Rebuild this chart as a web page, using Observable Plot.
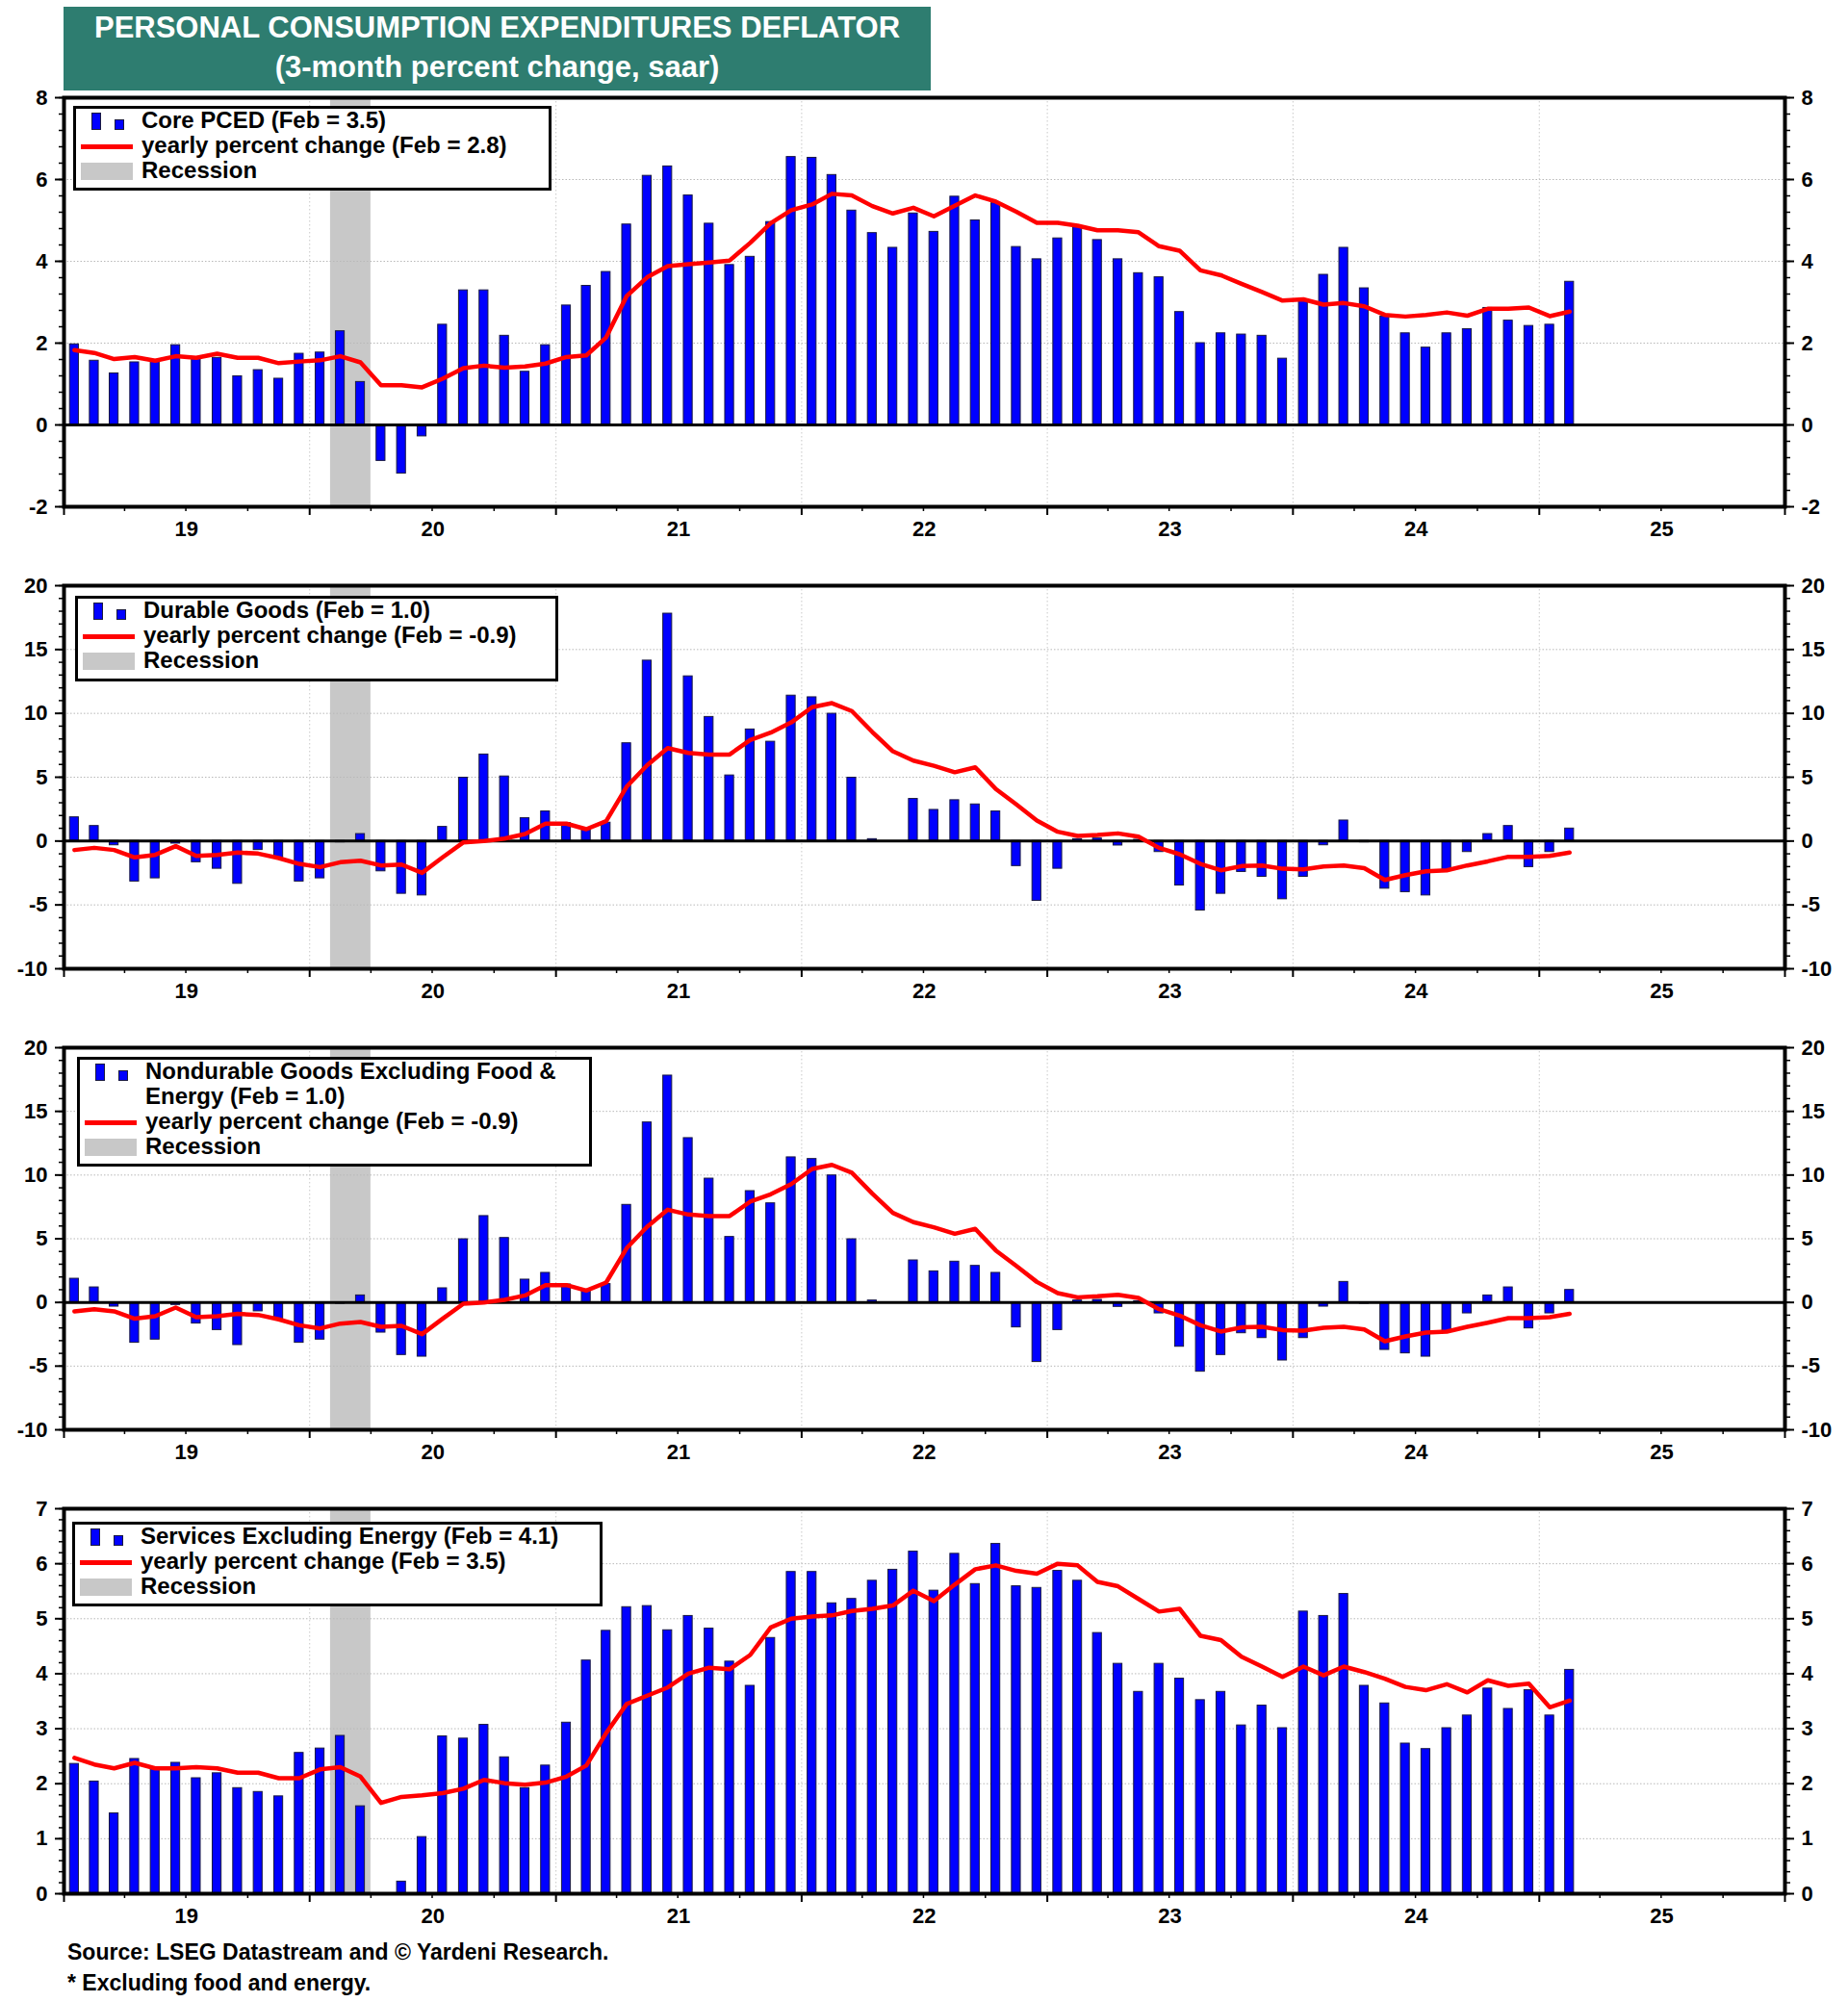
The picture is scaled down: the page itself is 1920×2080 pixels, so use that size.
<!DOCTYPE html>
<html>
<head>
<meta charset="utf-8">
<script src="https://cdn.jsdelivr.net/npm/d3@7"></script>
<script src="https://cdn.jsdelivr.net/npm/@observablehq/plot@0.6"></script>
<style>
  html, body { margin: 0; padding: 0; background: #fff; }
  #page { position: relative; width: 1920px; height: 2080px; background: #fff;
          font-family: "Liberation Sans", Arial, Helvetica, sans-serif; font-weight: bold; color: #000; }
  .panel { position: absolute; left: 0; }
  .title { position: absolute; left: 66px; top: 7px; width: 901px; height: 87px; background: #2e7d70;
           color: #fff; text-align: center; font-size: 31px; line-height: 41px; padding-top: 1px; box-sizing: border-box; }
  .legend { position: absolute; background: #fff; border: 3px solid #000; box-sizing: border-box; z-index: 5; }
  .row { position: absolute; left: 0; right: 0; height: 26px; line-height: 26px; font-size: 24px; white-space: nowrap; }
  .row .txt { position: absolute; left: 68px; top: 0; }
  .sym { position: absolute; box-sizing: border-box; }
  .footer { position: absolute; left: 70px; font-size: 23px; line-height: 32px; white-space: nowrap; }
</style>
</head>
<body>
<div id="page"></div>
<script>
// ---------------- DATA (Jan 2019 .. Feb 2025, monthly) ----------------
const titleLines = ["PERSONAL CONSUMPTION EXPENDITURES DEFLATOR", "(3-month percent change, saar)"];
const footerLines = ["Source: LSEG Datastream and \u00A9 Yardeni Research.", "* Excluding food and energy."];
const yearTickLabels = ["19", "20", "21", "22", "23", "24", "25"];
const recessionStart = "2020-02-01";
const recessionEnd = "2020-04-01";
const firstMonth = "2019-01-01";

const coreBars = [
  1.97, 1.57, 1.26, 1.53, 1.55, 1.95, 1.64, 1.64, 1.19, 1.34, 1.13, 1.74,
  1.77, 2.29, 1.05, -0.88, -1.19, -0.28, 2.45, 3.29, 3.29, 2.18, 1.30, 1.95,
  2.92, 3.40, 3.74, 4.90, 6.09, 6.32, 5.61, 4.92, 3.91, 4.11, 4.96, 6.55,
  6.53, 6.11, 5.24, 4.69, 4.33, 5.17, 4.72, 5.58, 5.00, 5.42, 4.35, 4.05,
  4.56, 4.86, 4.52, 4.05, 3.71, 3.61, 2.76, 2.00, 2.24, 2.21, 2.18, 1.62,
  3.03, 3.67, 4.33, 3.34, 2.65, 2.24, 1.89, 2.24, 2.34, 2.86, 2.55, 2.42,
  2.45, 3.50];
const coreYoY = [
  1.83, 1.76, 1.61, 1.66, 1.57, 1.68, 1.64, 1.74, 1.64, 1.64, 1.51, 1.55,
  1.58, 1.68, 1.53, 0.97, 0.97, 0.92, 1.13, 1.39, 1.45, 1.40, 1.43, 1.50,
  1.66, 1.70, 2.14, 3.15, 3.61, 3.88, 3.93, 3.97, 4.02, 4.45, 4.93, 5.25,
  5.39, 5.65, 5.61, 5.35, 5.17, 5.31, 5.10, 5.36, 5.61, 5.46, 5.21, 4.94,
  4.94, 4.87, 4.76, 4.76, 4.71, 4.37, 4.26, 3.78, 3.66, 3.45, 3.25, 3.04,
  3.07, 2.94, 2.98, 2.90, 2.69, 2.65, 2.69, 2.75, 2.67, 2.84, 2.84, 2.87,
  2.66, 2.77];

const durableBars = [
  1.86, 1.18, -0.33, -3.17, -2.92, -0.20, -1.66, -2.17, -3.35, -0.70, -1.30, -3.17,
  -2.92, -0.10, 0.55, -2.37, -4.13, -4.26, 1.11, 4.96, 6.78, 5.06, 1.79, 2.32,
  1.41, 0.86, 1.44, 7.66, 14.13, 17.81, 12.90, 9.72, 5.14, 8.74, 7.78, 11.39,
  11.26, 9.97, 4.96, 0.15, 0.00, 3.30, 2.44, 3.20, 2.87, 2.32, -1.96, -4.68,
  -2.17, 0.15, 0.20, -0.35, 0.10, -0.86, -3.48, -5.44, -4.13, -2.42, -2.80, -4.56,
  -2.80, -0.33, 1.61, -0.10, -3.73, -4.00, -4.26, -2.30, -0.86, 0.55, 1.18, -2.04,
  -0.86, 0.98];
const durableYoY = [
  -0.70, -0.53, -0.70, -1.28, -1.08, -0.40, -1.16, -1.08, -0.90, -0.98, -1.33, -1.79,
  -2.04, -1.66, -1.54, -1.91, -1.84, -2.49, -1.28, -0.10, 0.00, 0.20, 0.55, 1.36,
  1.36, 0.93, 1.56, 4.26, 5.94, 7.28, 6.90, 6.78, 6.78, 7.91, 8.49, 9.29,
  10.48, 10.80, 10.18, 8.54, 7.03, 6.30, 5.90, 5.39, 5.77, 4.08, 2.87, 1.61,
  0.73, 0.40, 0.48, 0.60, 0.35, -0.53, -1.03, -1.79, -2.29, -1.96, -1.91, -2.17,
  -2.22, -1.99, -1.91, -2.12, -3.05, -2.67, -2.37, -2.29, -1.91, -1.59, -1.23, -1.23,
  -1.16, -0.90];

const nondurableBars = [
  1.86, 1.18, -0.33, -3.17, -2.92, -0.20, -1.66, -2.17, -3.35, -0.70, -1.30, -3.17,
  -2.92, -0.10, 0.55, -2.37, -4.13, -4.26, 1.11, 4.96, 6.78, 5.06, 1.79, 2.32,
  1.41, 0.86, 1.44, 7.66, 14.13, 17.81, 12.90, 9.72, 5.14, 8.74, 7.78, 11.39,
  11.26, 9.97, 4.96, 0.15, 0.00, 3.30, 2.44, 3.20, 2.87, 2.32, -1.96, -4.68,
  -2.17, 0.15, 0.20, -0.35, 0.10, -0.86, -3.48, -5.44, -4.13, -2.42, -2.80, -4.56,
  -2.80, -0.33, 1.61, -0.10, -3.73, -4.00, -4.26, -2.30, -0.86, 0.55, 1.18, -2.04,
  -0.86, 0.98];
const nondurableYoY = [
  -0.70, -0.53, -0.70, -1.28, -1.08, -0.40, -1.16, -1.08, -0.90, -0.98, -1.33, -1.79,
  -2.04, -1.66, -1.54, -1.91, -1.84, -2.49, -1.28, -0.10, 0.00, 0.20, 0.55, 1.36,
  1.36, 0.93, 1.56, 4.26, 5.94, 7.28, 6.90, 6.78, 6.78, 7.91, 8.49, 9.29,
  10.48, 10.80, 10.18, 8.54, 7.03, 6.30, 5.90, 5.39, 5.77, 4.08, 2.87, 1.61,
  0.73, 0.40, 0.48, 0.60, 0.35, -0.53, -1.03, -1.79, -2.29, -1.96, -1.91, -2.17,
  -2.22, -1.99, -1.91, -2.12, -3.05, -2.67, -2.37, -2.29, -1.91, -1.59, -1.23, -1.23,
  -1.16, -0.90];

const servicesBars = [
  2.36, 2.04, 1.46, 2.45, 2.28, 2.38, 2.10, 2.19, 1.92, 1.85, 1.77, 2.56,
  2.64, 2.87, 1.59, -0.40, 0.22, 1.03, 2.86, 2.82, 3.07, 2.48, 1.92, 2.33,
  3.11, 4.24, 4.78, 5.21, 5.23, 4.79, 5.05, 4.82, 4.22, 3.78, 4.65, 5.85,
  5.85, 5.28, 5.36, 5.69, 5.89, 6.22, 5.51, 6.18, 5.63, 6.36, 5.59, 5.56,
  5.87, 5.69, 4.74, 4.18, 3.67, 4.18, 3.91, 3.52, 3.67, 3.06, 3.42, 3.01,
  5.13, 5.05, 5.45, 3.78, 3.46, 2.73, 2.63, 3.01, 3.24, 3.73, 3.36, 3.70,
  3.24, 4.07];
const servicesYoY = [
  2.47, 2.35, 2.28, 2.38, 2.28, 2.28, 2.30, 2.28, 2.20, 2.20, 2.10, 2.10,
  2.26, 2.30, 2.13, 1.65, 1.76, 1.79, 1.83, 1.91, 2.07, 2.01, 1.98, 2.02,
  2.13, 2.33, 2.92, 3.45, 3.60, 3.75, 4.00, 4.11, 4.08, 4.34, 4.84, 5.00,
  5.04, 5.06, 5.14, 5.18, 5.24, 5.51, 5.32, 5.62, 5.90, 5.97, 5.87, 5.82,
  6.00, 5.97, 5.67, 5.59, 5.36, 5.13, 5.18, 4.69, 4.61, 4.31, 4.13, 3.94,
  4.13, 3.97, 4.13, 4.03, 3.91, 3.76, 3.70, 3.81, 3.66, 3.88, 3.78, 3.82,
  3.39, 3.51];

const coreLegend = ["Core PCED (Feb = 3.5)", "yearly percent change (Feb = 2.8)", "Recession"];
const durableLegend = ["Durable Goods (Feb = 1.0)", "yearly percent change (Feb = -0.9)", "Recession"];
const nondurableLegend = ["Nondurable Goods Excluding Food &", "Energy (Feb = 1.0)", "yearly percent change (Feb = -0.9)", "Recession"];
const servicesLegend = ["Services Excluding Energy (Feb = 4.1)", "yearly percent change (Feb = 3.5)", "Recession"];

// ---------------- BUILD ----------------
const page = document.getElementById("page");
const FONT = '"Liberation Sans", Arial, Helvetica, sans-serif';

// title
const t = document.createElement("div");
t.className = "title";
t.innerHTML = titleLines.map(s => `<div>${s.replace(/&/g, "&amp;")}</div>`).join("");
page.appendChild(t);

const start = new Date(firstMonth + "T00:00:00Z");
const xDomain = [d3.utcYear.floor(start), d3.utcYear.offset(d3.utcYear.floor(start), 7)];
const W = 1920, ML = 66, MR = 66;
const msPerPx = (xDomain[1] - xDomain[0]) / (W - ML - MR);
const barHalf = 4.6 * msPerPx;

function toRows(bars, yoy) {
  return bars.map((v, i) => {
    const m0 = d3.utcMonth.offset(start, i);
    const m1 = d3.utcMonth.offset(start, i + 1);
    const mid = new Date((+m0 + +m1) / 2);
    return {mid, x1: new Date(+mid - barHalf), x2: new Date(+mid + barHalf), bar: v, yoy: yoy[i]};
  });
}

const years = d3.utcYear.range(xDomain[0], d3.utcYear.offset(xDomain[1], 1));
const innerYears = years.filter(d => d > xDomain[0] && d < xDomain[1]);
const quarters = d3.utcMonth.every(3).range(xDomain[0], d3.utcDay.offset(xDomain[1], 1)).filter(d => d.getUTCMonth() !== 0);
const midYears = yearTickLabels.map((s, i) => new Date(Date.UTC(2019 + i, 6, 2)));
const fmtY = d => String(d);

function panel({top, frameH, bars, yoy, domain, major, minorStep}) {
  const rows = toRows(bars, yoy);
  const minor = d3.range(domain[0], domain[1] + minorStep / 2, minorStep).map(v => +v.toFixed(4));
  const gridTicks = major.filter(v => v !== 0 && v !== domain[0] && v !== domain[1]);
  const MT = 20, MB = 55;
  const chart = Plot.plot({
    width: W, height: MT + frameH + MB,
    marginLeft: ML, marginRight: MR, marginTop: MT, marginBottom: MB,
    x: {type: "utc", domain: xDomain},
    y: {domain},
    style: {fontFamily: FONT, fontSize: "22px", fontWeight: "bold", color: "#000", background: "transparent", overflow: "visible"},
    marks: [
      Plot.rect([{a: new Date(recessionStart + "T00:00:00Z"), b: new Date(recessionEnd + "T00:00:00Z")}],
        {x1: "a", x2: "b", fill: "#c8c8c8"}),
      Plot.gridY({ticks: gridTicks, stroke: "#b8b8b8", strokeOpacity: 1, strokeDasharray: "1.5,2"}),
      Plot.gridX({ticks: innerYears, stroke: "#c8c8c8", strokeOpacity: 1, strokeDasharray: "1.5,2.5"}),
      Plot.rectY(rows, {x1: "x1", x2: "x2", y1: 0, y2: "bar", fill: "#0000ff", stroke: "#1a1a40", strokeWidth: 1, clip: true}),
      Plot.ruleY([0], {stroke: "#000", strokeWidth: 3}),
      Plot.line(rows, {x: "mid", y: "yoy", stroke: "#ff0000", strokeWidth: 4.5, strokeLinejoin: "round"}),
      Plot.frame({stroke: "#000", strokeWidth: 4}),
      Plot.axisY({anchor: "left", ticks: major, tickFormat: fmtY, tickSize: 9, tickPadding: 8, strokeWidth: 2, label: null, fontWeight: "bold"}),
      Plot.axisY({anchor: "left", ticks: minor, tickSize: 5, text: null, strokeWidth: 1.5, label: null}),
      Plot.axisY({anchor: "right", ticks: major, tickFormat: fmtY, tickSize: 9, tickPadding: 8, strokeWidth: 2, label: null, fontWeight: "bold"}),
      Plot.axisY({anchor: "right", ticks: minor, tickSize: 5, text: null, strokeWidth: 1.5, label: null}),
      Plot.axisX({ticks: years, tickSize: 9, text: null, strokeWidth: 2, label: null}),
      Plot.axisX({ticks: quarters, tickSize: 5, text: null, strokeWidth: 1.5, label: null}),
      Plot.axisX({ticks: midYears, tickSize: 0, tickPadding: 15, tickFormat: (d, i) => yearTickLabels[i], label: null, fontWeight: "bold"})
    ]
  });
  const holder = document.createElement("div");
  holder.className = "panel";
  holder.style.top = (top - MT) + "px";
  holder.appendChild(chart);
  page.appendChild(holder);
}

function legend({left, top, width, height, texts, kinds}) {
  const box = document.createElement("div");
  box.className = "legend";
  Object.assign(box.style, {left: left + "px", top: top + "px", width: width + "px", height: height + "px"});
  texts.forEach((txt, i) => {
    const row = document.createElement("div");
    row.className = "row";
    row.style.top = (-1 + 26 * i) + "px";
    const kind = kinds[i];
    if (kind === "bar") {
      row.innerHTML += `<div class="sym" style="left:16px;top:5px;width:10px;height:18px;background:#0000ff;border:1px solid #1a1a40"></div>` +
                       `<div class="sym" style="left:40px;top:12px;width:10px;height:11px;background:#0000ff;border:1px solid #1a1a40"></div>`;
    } else if (kind === "line") {
      row.innerHTML += `<div class="sym" style="left:5px;top:12px;width:54px;height:5px;background:#ff0000"></div>`;
    } else if (kind === "rec") {
      row.innerHTML += `<div class="sym" style="left:5px;top:5px;width:54px;height:18px;background:#c8c8c8"></div>`;
    }
    const span = document.createElement("div");
    span.className = "txt";
    span.textContent = txt;
    row.appendChild(span);
    box.appendChild(row);
  });
  page.appendChild(box);
}

panel({top: 101, frameH: 425, bars: coreBars, yoy: coreYoY, domain: [-2, 8], major: [-2, 0, 2, 4, 6, 8], minorStep: 0.4});
panel({top: 608, frameH: 398, bars: durableBars, yoy: durableYoY, domain: [-10, 20], major: [-10, -5, 0, 5, 10, 15, 20], minorStep: 1});
panel({top: 1088, frameH: 397, bars: nondurableBars, yoy: nondurableYoY, domain: [-10, 20], major: [-10, -5, 0, 5, 10, 15, 20], minorStep: 1});
panel({top: 1567, frameH: 400, bars: servicesBars, yoy: servicesYoY, domain: [0, 7], major: [0, 1, 2, 3, 4, 5, 6, 7], minorStep: 0.2});

legend({left: 76, top: 110, width: 497, height: 88, texts: coreLegend, kinds: ["bar", "line", "rec"]});
legend({left: 78, top: 619, width: 502, height: 89, texts: durableLegend, kinds: ["bar", "line", "rec"]});
legend({left: 80, top: 1098, width: 535, height: 114, texts: nondurableLegend, kinds: ["bar", null, "line", "rec"]});
legend({left: 75, top: 1581, width: 551, height: 88, texts: servicesLegend, kinds: ["bar", "line", "rec"]});

footerLines.forEach((s, i) => {
  const f = document.createElement("div");
  f.className = "footer";
  f.style.top = (2012 + 32 * i) + "px";
  f.textContent = s;
  page.appendChild(f);
});
</script>
</body>
</html>
